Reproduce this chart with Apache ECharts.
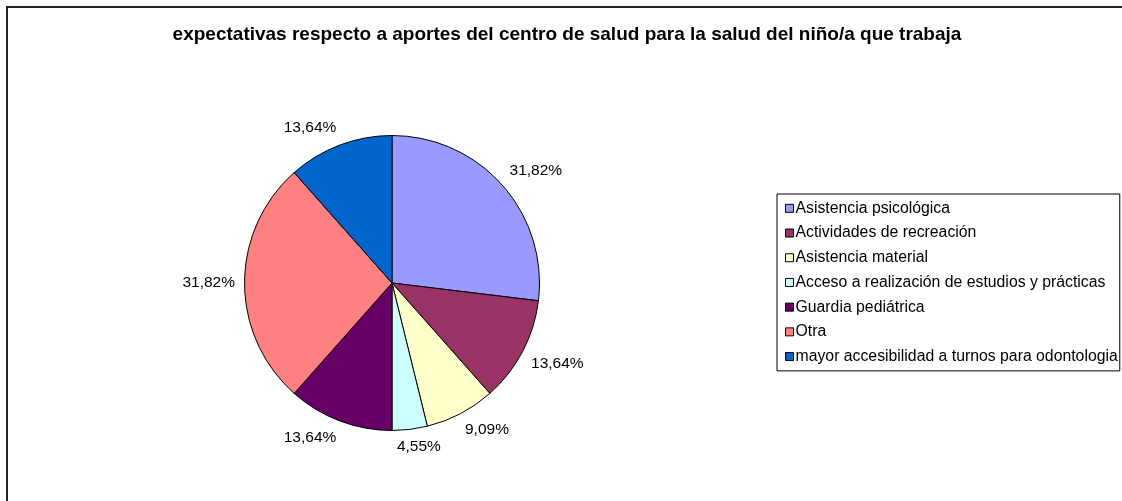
<!DOCTYPE html>
<html>
<head>
<meta charset="utf-8">
<script src="https://cdn.jsdelivr.net/npm/echarts@6/dist/echarts.min.js"></script>
<style>
html,body{margin:0;padding:0;background:#fff;}
#main{width:1122px;height:501px;}
</style>
</head>
<body>
<div id="main"></div>
<script>
const titleText = 'expectativas respecto a aportes del centro de salud para la salud del niño/a que trabaja';
const categories = [
  'Asistencia psicológica',
  'Actividades de recreación',
  'Asistencia material',
  'Acceso a realización de estudios y prácticas',
  'Guardia pediátrica',
  'Otra',
  'mayor accesibilidad a turnos para odontologia'
];
const values = [31.82, 13.64, 9.09, 4.55, 13.64, 31.82, 13.64];
const colors = ['#9999FF', '#993366', '#FFFFCC', '#CCFFFF', '#660066', '#FF8080', '#0066CC'];

const CX = 392, CY = 283, R = 147.5, LABEL_GAP = 9.5;
const FONT = '"Liberation Sans", Arial, sans-serif';

const total = values.reduce((a, b) => a + b, 0);
const cum = [];
values.reduce((acc, v, i) => { cum[i] = acc; return acc + v; }, 0);

const chart = echarts.init(document.getElementById('main'), null, {renderer: 'canvas'});
chart.setOption({
  backgroundColor: '#fff',
  animation: false,
  title: {
    text: titleText,
    left: 567,
    textAlign: 'center',
    top: 25,
    padding: 0,
    textStyle: {fontFamily: FONT, fontSize: 19, fontWeight: 'bold', color: '#000'}
  },
  graphic: [{
    type: 'rect',
    shape: {x: 7, y: 7, width: 1300, height: 700},
    style: {fill: 'none', stroke: '#222', lineWidth: 2},
    silent: true
  }],
  legend: {
    orient: 'vertical',
    left: 777,
    top: 194,
    padding: [2, 2, 2, 8],
    borderColor: '#000',
    borderWidth: 1,
    itemWidth: 8,
    itemHeight: 8,
    itemGap: 0,
    icon: 'rect',
    itemStyle: {borderColor: '#000', borderWidth: 1},
    textStyle: {fontFamily: FONT, fontSize: 15.8, color: '#000', lineHeight: 24.7, padding: [0, 0, 0, -3]},
    data: categories
  },
  series: [{
    type: 'pie',
    center: [CX, CY],
    radius: R,
    startAngle: 90,
    clockwise: true,
    avoidLabelOverlap: false,
    itemStyle: {borderColor: '#000', borderWidth: 1},
    emphasis: {disabled: true},
    label: {
      show: true,
      position: 'outside',
      fontFamily: FONT,
      fontSize: 15.5,
      color: '#000',
      formatter: p => String(p.value).replace('.', ',') + '%'
    },
    labelLine: {show: false},
    labelLayout: function (params) {
      const i = params.dataIndex;
      const th = 2 * Math.PI * (cum[i] + values[i] / 2) / total;
      const ux = Math.sin(th), uy = -Math.cos(th);
      const w = params.labelRect.width, h = params.labelRect.height;
      const clamp = v => Math.max(-1, Math.min(1, v));
      const d = R + LABEL_GAP;
      return {
        x: CX + d * ux + clamp(3 * ux) * w / 2,
        y: CY + d * uy + clamp(3 * uy) * h / 2,
        align: 'center',
        verticalAlign: 'middle'
      };
    },
    data: categories.map((c, i) => ({name: c, value: values[i], itemStyle: {color: colors[i]}}))
  }]
});
</script>
</body>
</html>
